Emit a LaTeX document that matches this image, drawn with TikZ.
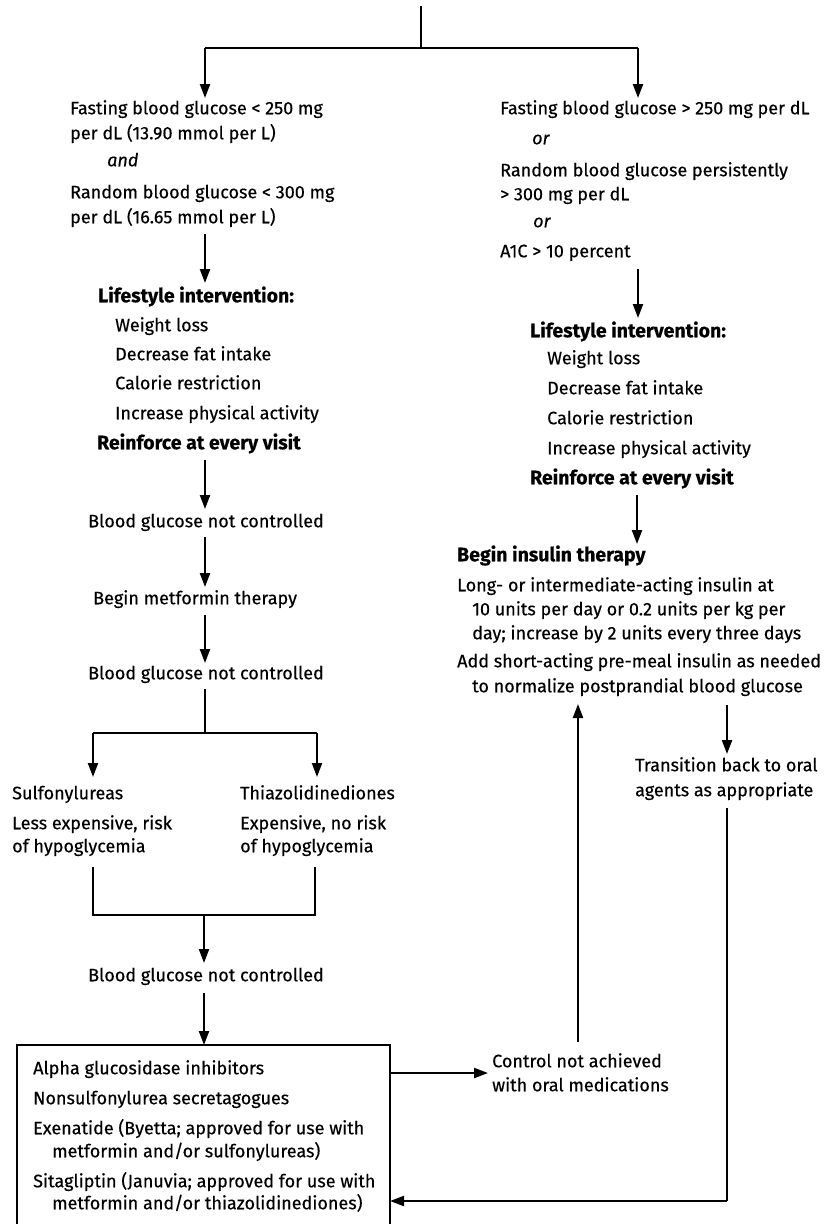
\documentclass[tikz,border=0pt]{standalone}
\usepackage{fontspec}
\setmainfont{Fira Sans}[FakeBold=0.4]
\usetikzlibrary{arrows.meta}
\begin{document}
\begin{tikzpicture}[x=1pt,y=-1pt,
  txt/.style={anchor=west,inner sep=0pt,text height=13pt,text depth=4.5pt,font=\fontsize{18}{22}\selectfont},
  btxt/.style={txt,font=\fontsize{19.5}{22}\selectfont\bfseries},
  itxt/.style={txt,font=\fontsize{18}{22}\selectfont\itshape},
  conn/.style={line width=2.2pt},
  arr/.style={line width=2.2pt,-{Triangle[length=14pt,width=10pt]}}]
\useasboundingbox (0,0) rectangle (824,1224);
% top split
\coordinate (top) at (421,6);
\coordinate (tj) at (421,48);
\coordinate (tl) at (205,48);
\coordinate (tr) at (638,48);
\coordinate (tlb) at (205,98);
\coordinate (trb) at (638,98);
\draw[conn] (top) -- (tj);
\draw[conn] (tl) -- (tr);
\draw[arr] (tl) -- (tlb);
\draw[arr] (tr) -- (trb);
% left column
\node[txt] (l1) at (70,110) {Fasting blood glucose < 250 mg};
\node[txt] (l2) at (70,135) {per dL (13.90 mmol per L)};
\node[itxt] (l3) at (107,162) {and};
\node[txt] (l4) at (70,194) {Random blood glucose < 300 mg};
\node[txt] (l5) at (70,219) {per dL (16.65 mmol per L)};
\coordinate (la1) at (205,234);
\coordinate (la1b) at (205,283);
\draw[arr] (la1) -- (la1b);
\node[btxt] (ll1) at (98,298) {Lifestyle intervention:};
\node[txt] (ll2) at (115,327) {Weight loss};
\node[txt] (ll3) at (115,356) {Decrease fat intake};
\node[txt] (ll4) at (115,385) {Calorie restriction};
\node[txt] (ll5) at (115,415) {Increase physical activity};
\node[btxt] (ll6) at (97,445) {Reinforce at every visit};
\coordinate (la2) at (205,460);
\coordinate (la2b) at (205,509);
\draw[arr] (la2) -- (la2b);
\node[txt] (lb1) at (88,523) {Blood glucose not controlled};
\coordinate (la3) at (205,537);
\coordinate (la3b) at (205,587);
\draw[arr] (la3) -- (la3b);
\node[txt] (lm) at (93,600) {Begin metformin therapy};
\coordinate (la4) at (205,615);
\coordinate (la4b) at (205,663);
\draw[arr] (la4) -- (la4b);
\node[txt] (lb2) at (88,675) {Blood glucose not controlled};
\coordinate (lj) at (205,689);
\coordinate (ljm) at (205,733);
\coordinate (ljl) at (93,733);
\coordinate (ljr) at (317,733);
\coordinate (ljlb) at (93,777);
\coordinate (ljrb) at (317,777);
\draw[conn] (lj) -- (ljm);
\draw[conn] (ljl) -- (ljr);
\draw[arr] (ljl) -- (ljlb);
\draw[arr] (ljr) -- (ljrb);
\node[txt] (s1) at (12,795) {Sulfonylureas};
\node[txt] (s2) at (12,825) {Less expensive, risk};
\node[txt] (s3) at (12,848) {of hypoglycemia};
\node[txt] (t1) at (240,795) {Thiazolidinediones};
\node[txt] (t2) at (240,825) {Expensive, no risk};
\node[txt] (t3) at (240,848) {of hypoglycemia};
\coordinate (mj1) at (93,867);
\coordinate (mj2) at (93,915);
\coordinate (mj3) at (315,915);
\coordinate (mj4) at (315,867);
\coordinate (mjm) at (204,915);
\coordinate (mjb) at (204,963);
\draw[conn] (mj1) -- (mj2) -- (mj3) -- (mj4);
\draw[arr] (mjm) -- (mjb);
\node[txt] (lb3) at (88,977) {Blood glucose not controlled};
\coordinate (la5) at (204,993);
\coordinate (la5b) at (204,1045);
\draw[arr] (la5) -- (la5b);
% box
\draw[conn] (17,1232) -- (17,1045) -- (390,1045) -- (390,1232);
\coordinate (boxr1) at (390,1073);
\coordinate (boxr2) at (390,1201);
\node[txt] (b1) at (33,1070) {Alpha glucosidase inhibitors};
\node[txt] (b2) at (33,1100) {Nonsulfonylurea secretagogues};
\node[txt] (b3) at (33,1130) {Exenatide (Byetta; approved for use with};
\node[txt] (b4) at (52,1153) {metformin and/or sulfonylureas)};
\node[txt] (b5) at (33,1183) {Sitagliptin (Januvia; approved for use with};
\node[txt] (b6) at (52,1205) {metformin and/or thiazolidinediones)};
% control not achieved
\node[txt] (c1) at (492,1063) {Control not achieved};
\node[txt] (c2) at (492,1087) {with oral medications};
\coordinate (ca) at (488,1073);
\draw[arr] (boxr1) -- (ca);
\coordinate (cu) at (578,1042);
\coordinate (cut) at (578,704);
\draw[arr] (cu) -- (cut);
% right column
\node[txt] (r1) at (500,110) {Fasting blood glucose > 250 mg per dL};
\node[itxt] (r2) at (532,140) {or};
\node[txt] (r3) at (500,172) {Random blood glucose persistently};
\node[txt] (r4) at (500,196) {> 300 mg per dL};
\node[itxt] (r5) at (533,223) {or};
\node[txt] (r6) at (500,253) {A1C > 10 percent};
\coordinate (ra1) at (638,269);
\coordinate (ra1b) at (638,318);
\draw[arr] (ra1) -- (ra1b);
\node[btxt] (rl1) at (530,333) {Lifestyle intervention:};
\node[txt] (rl2) at (547,360) {Weight loss};
\node[txt] (rl3) at (547,390) {Decrease fat intake};
\node[txt] (rl4) at (547,420) {Calorie restriction};
\node[txt] (rl5) at (547,450) {Increase physical activity};
\node[btxt] (rl6) at (530,480) {Reinforce at every visit};
\coordinate (ra2) at (637,495);
\coordinate (ra2b) at (637,544);
\draw[arr] (ra2) -- (ra2b);
\node[btxt] (i1) at (457,557) {Begin insulin therapy};
\node[txt] (i2) at (457,587) {Long- or intermediate-acting insulin at};
\node[txt] (i3) at (472,611) {10 units per day or 0.2 units per kg per};
\node[txt] (i4) at (472,635) {day; increase by 2 units every three days};
\node[txt] (i5) at (457,663) {Add short-acting pre-meal insulin as needed};
\node[txt] (i6) at (472,688) {to normalize postprandial blood glucose};
\coordinate (ta) at (727,705);
\coordinate (tab) at (727,754);
\draw[arr] (ta) -- (tab);
\node[txt] (tr1) at (635,767) {Transition back to oral};
\node[txt] (tr2) at (635,792) {agents as appropriate};
\coordinate (rt) at (727,808);
\coordinate (rc) at (727,1201);
\draw[conn] (rt) -- (rc);
\draw[arr] (rc) -- (boxr2);
\end{tikzpicture}
\end{document}
